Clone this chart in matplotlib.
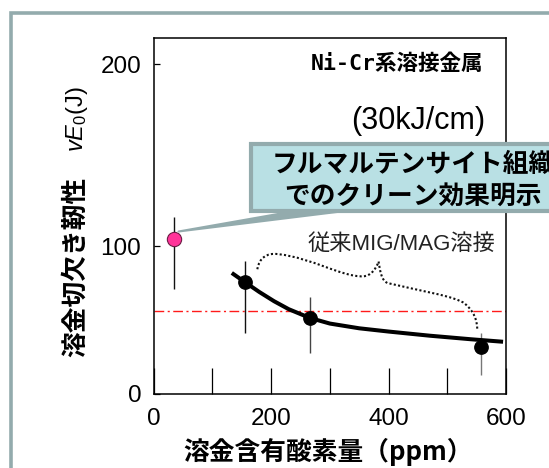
import matplotlib

matplotlib.use("Agg")
import matplotlib.patches as mpatches
import matplotlib.pyplot as plt
import numpy as np
from matplotlib.path import Path

plt.rcParams["font.family"] = ["Liberation Sans", "Noto Sans CJK JP"]
plt.rcParams["mathtext.fontset"] = "custom"
plt.rcParams["mathtext.rm"] = "Liberation Sans"
plt.rcParams["mathtext.it"] = "Liberation Sans:italic"

W, H = 549, 468

# conventional MIG/MAG weld metal
oxygen_ppm = [155, 266, 558]
toughness = [75.7, 51.4, 31.8]
toughness_hi = [89.9, 65.5, 41.2]
toughness_lo = [41.2, 27.7, 12.8]

# Ni-Cr weld metal (full martensite)
nicr_ppm = [34]
nicr_toughness = [103.7]
nicr_hi = [116.0]
nicr_lo = [71.0]

# trend line
trend_ppm = [133, 155, 180, 205, 230, 266, 300, 350, 400, 470, 540, 595]
trend_toughness = [81.8, 75.7, 68.9, 62.7, 57.3, 51.4, 47.6, 44.4, 42.2, 39.4, 37.0, 35.3]

target_toughness = 56.4

x_ticks = [0, 100, 200, 300, 400, 500, 600]
x_ticklabels = ["0", "", "200", "", "400", "", "600"]
y_ticks = [0, 100, 200]

FRAME = "#93abad"
BOX_FILL = "#b9e0e4"
CJK = ["Noto Sans CJK JP"]


def px(x, y):
    # pixel position (from top-left) -> figure fraction
    return x / W, 1 - y / H


# the original y axis is stretched above 100 J
def _fwd(y):
    y = np.asarray(y, dtype=float)
    return np.where(y <= 100, y, 100 + (y - 100) * 182.0 / 148.0)


def _inv(v):
    v = np.asarray(v, dtype=float)
    return np.where(v <= 100, v, 100 + (v - 100) * 148.0 / 182.0)


fig = plt.figure(figsize=(W / 100, H / 100), dpi=100, facecolor="white")

# outer frame
fig.patches.append(
    mpatches.Rectangle(px(10.7, 600), 700 / W, (600 - 13.3) / H, transform=fig.transFigure,
                       fill=False, edgecolor=FRAME, linewidth=2.6)
)

ax = fig.add_axes([153.7 / W, (H - 394) / H, (506 - 153.7) / W, (394 - 38) / H])
ax.set_yscale("function", functions=(_fwd, _inv))
ax.set_xlim(0, 600)
ax.set_ylim(0, 214.3)

for s in ax.spines.values():
    s.set_linewidth(1.1)

ax.set_xticks(x_ticks)
ax.set_xticklabels(x_ticklabels)
ax.set_yticks(y_ticks)
ax.set_yticklabels([str(v) for v in y_ticks])
ax.tick_params(axis="x", direction="in", length=19, width=0.9, pad=10, labelsize=17.5)
ax.tick_params(axis="y", direction="in", length=4, width=0.9, pad=9, labelsize=17.5)
ax.minorticks_off()

ax.axhline(target_toughness, color="#ff1a1a", lw=1.0, ls=(0, (7, 2.5, 1.5, 2.5)), zorder=1)

ax.plot(trend_ppm, trend_toughness, color="black", lw=2.9, solid_capstyle="butt",
        solid_joinstyle="round", zorder=3)

err_colors = ["#111111", "#444444", "#777777"]
for x, y, hi, lo, c in zip(oxygen_ppm, toughness, toughness_hi, toughness_lo, err_colors):
    ax.errorbar([x], [y], yerr=[[y - lo], [hi - y]], fmt="none", ecolor=c, elinewidth=1.0, zorder=2)
ax.plot(oxygen_ppm, toughness, "o", color="black", ms=9.6, zorder=4)

ax.errorbar(nicr_ppm, nicr_toughness,
            yerr=[[nicr_toughness[0] - nicr_lo[0]], [nicr_hi[0] - nicr_toughness[0]]],
            fmt="o", color="#ff3399", mec="#6b1d45", mew=0.8, ms=10.3,
            ecolor="#111111", elinewidth=1.0, zorder=4)

# dotted brace over the conventional welds
brace = Path(
    [(176.5, 84.3),
     (180, 92), (192, 95.5), (212, 94.5),
     (270, 92), (320, 79), (357, 79.5),
     (370, 80), (378, 84), (383, 89.5),
     (386, 82), (388, 77), (398, 75),
     (450, 70), (515, 66), (530, 61),
     (545, 56), (551, 50), (551, 43.7)],
    [Path.MOVETO] + [Path.CURVE4] * 18,
)
ax.add_patch(mpatches.PathPatch(brace, fill=False, edgecolor="#111111", lw=1.5,
                                ls=(0, (1, 1.1)), zorder=3))

# texts inside the plot
fig.text(*px(483, 64), "Ni-Cr系溶接金属", ha="right", va="center", fontsize=15.5,
         fontweight="bold", family=["DejaVu Sans Mono", "Noto Sans CJK JP"])
fig.text(*px(418, 121), "(30kJ/cm)", ha="center", va="center", fontsize=22)
fig.text(*px(401, 244), "従来MIG/MAG溶接", ha="center", va="center", fontsize=16,
         color="#222222")

# callout box with pointer to the Ni-Cr point
tip = px(178.5, 231.5)
fig.patches.append(
    mpatches.Polygon([tip, px(295, 211), px(345, 211)], closed=True, transform=fig.transFigure,
                     facecolor=FRAME, edgecolor=FRAME, lw=1.5, joinstyle="round", zorder=5)
)
fig.patches.append(
    mpatches.Rectangle(px(251, 211), (600 - 251) / W, (211 - 144) / H, transform=fig.transFigure,
                       facecolor=BOX_FILL, edgecolor=FRAME, lw=3.0, zorder=6)
)
fig.text(*px(413, 164), "フルマルテンサイト組織", ha="center", va="center", fontsize=18.5,
         fontweight="bold", family=CJK, zorder=7)
fig.text(*px(413, 196), "でのクリーン効果明示", ha="center", va="center", fontsize=18.5,
         fontweight="bold", family=CJK, zorder=7)

# axis titles
fig.text(*px(75.8, 267), "溶金切欠き靭性", rotation=90, ha="center", va="center",
         fontsize=18.5, fontweight="bold", family=CJK)
fig.text(*px(77.5, 119), r"$\mathit{v}E_{\mathit{0}}$(J)", rotation=90, ha="center", va="center",
         fontsize=17)
fig.text(*px(328, 452), "溶金含有酸素量（ppm）", ha="center", va="center", fontsize=18.5,
         fontweight="bold", family=CJK)

fig.savefig("out.png", dpi=100, facecolor="white")
plt.close(fig)
